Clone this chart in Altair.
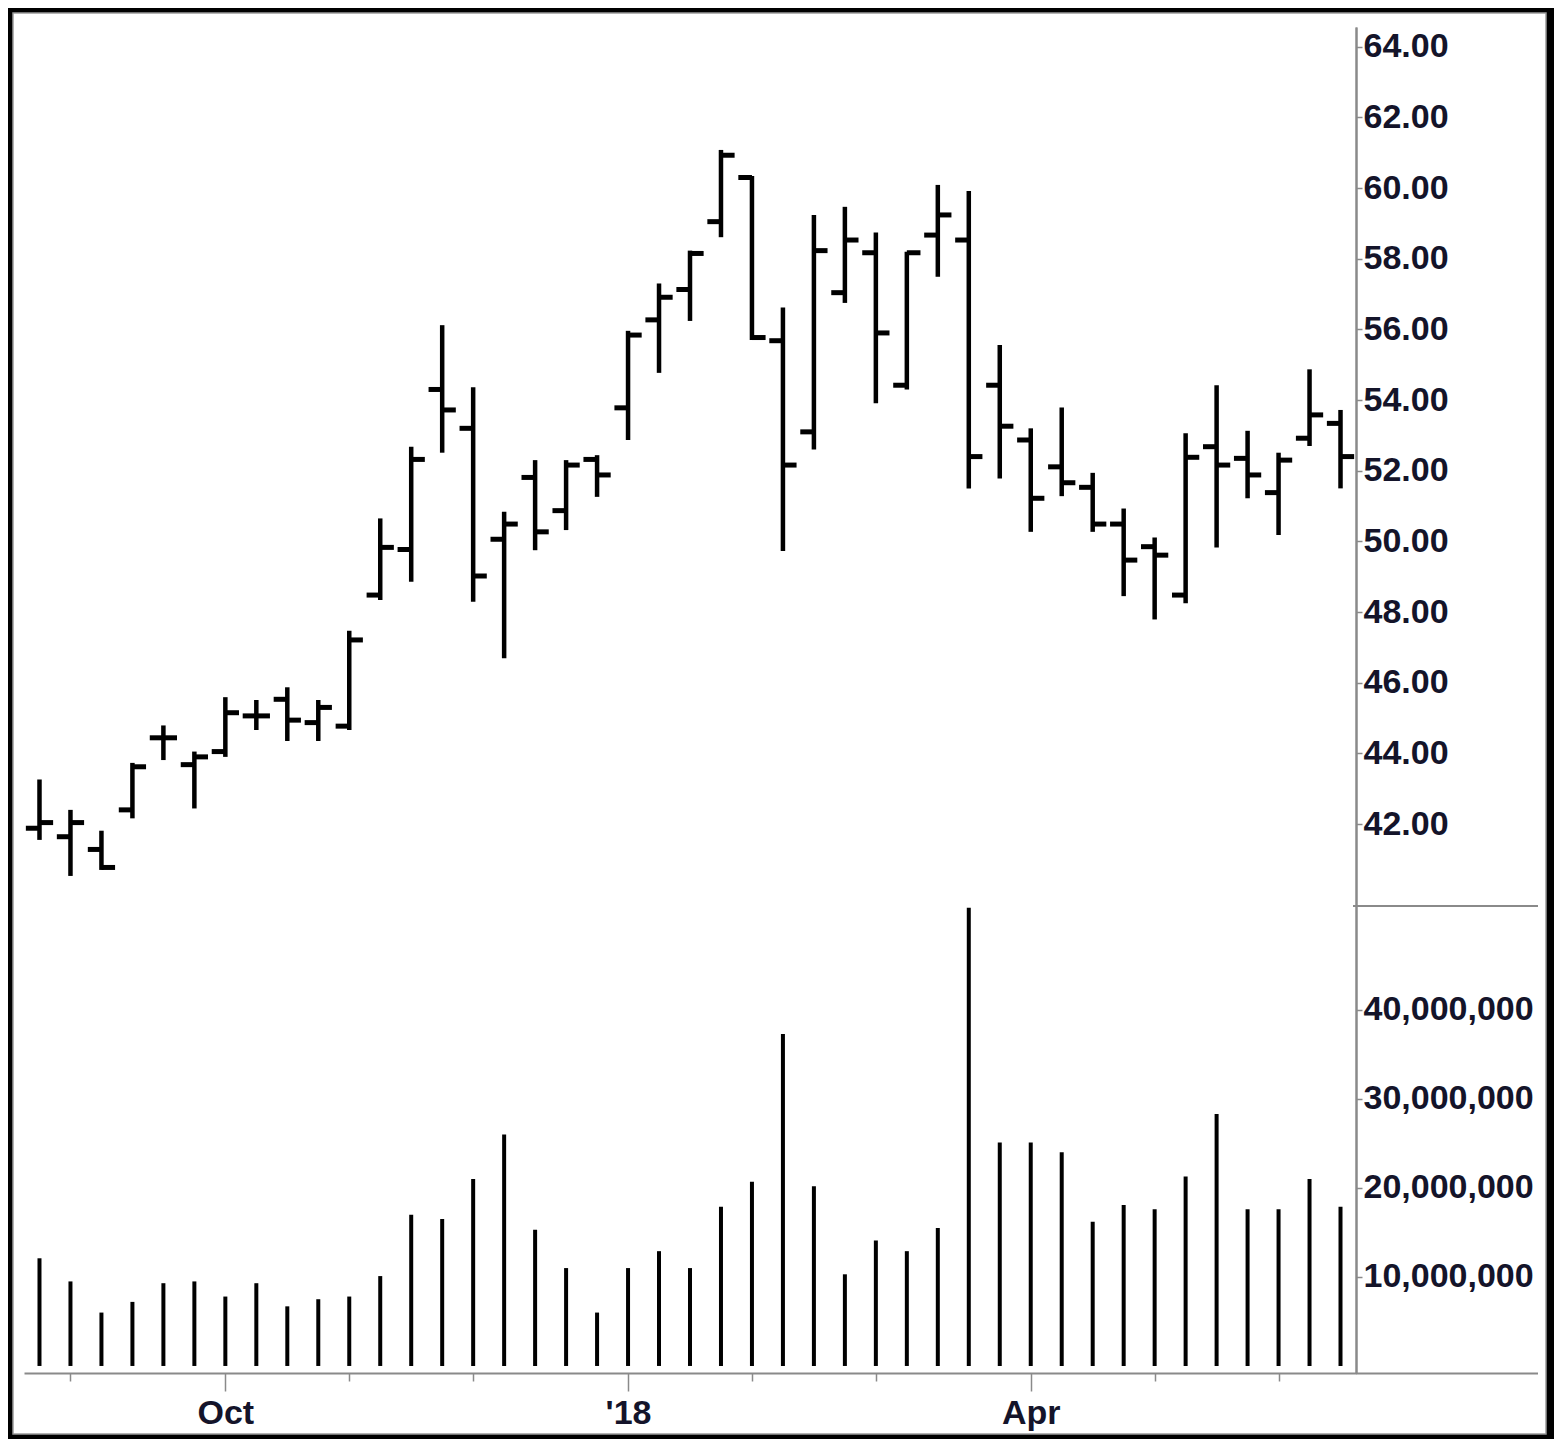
import json
import altair as alt
import pandas as pd

# Weekly bars (week ending Fridays), Aug 2017 - Jun 2018
weeks = [d.strftime("%Y-%m-%d") for d in pd.date_range("2017-08-25", periods=43, freq="7D")]

opens = [41.88, 41.64, 41.28, 42.40, 44.44, 43.68, 44.05, 45.06, 45.53, 44.87, 44.77,
         48.48, 49.77, 54.30, 53.20, 50.06, 51.81, 50.87, 52.32, 53.78, 56.27, 57.13,
         59.05, 60.30, 55.68, 53.10, 57.04, 58.17, 54.42, 58.67, 58.53, 54.42, 52.87,
         52.11, 51.53, 50.49, 49.85, 48.48, 52.68, 52.35, 51.38, 52.92, 53.34]
highs = [43.26, 42.40, 41.81, 43.73, 44.79, 44.05, 45.59, 45.51, 45.87, 45.51, 47.47,
         50.65, 52.68, 56.12, 54.36, 50.84, 52.30, 52.30, 52.44, 55.96, 57.30, 58.23,
         61.08, 60.34, 56.62, 59.24, 59.47, 58.74, 58.20, 60.09, 59.92, 55.56, 53.20,
         53.79, 51.94, 50.93, 50.11, 53.06, 54.42, 53.13, 52.51, 54.87, 53.72]
lows = [41.55, 40.53, 40.70, 42.16, 43.81, 42.44, 43.90, 44.66, 44.35, 44.35, 44.66,
        48.34, 48.86, 52.51, 48.29, 46.69, 49.75, 50.32, 51.26, 52.87, 54.77, 56.24,
        58.61, 55.70, 49.73, 52.60, 56.75, 53.91, 54.30, 57.49, 51.50, 51.78, 50.27,
        51.28, 50.27, 48.45, 47.79, 48.25, 49.83, 51.22, 50.18, 52.70, 51.50]
closes = [42.04, 42.04, 40.77, 43.62, 44.44, 43.90, 45.15, 45.06, 44.94, 45.30, 47.21,
          49.83, 52.32, 53.72, 49.02, 50.49, 50.27, 52.16, 51.88, 55.84, 56.91, 58.15,
          60.93, 55.77, 52.16, 58.23, 58.53, 55.90, 58.17, 59.24, 52.40, 53.26, 51.22,
          51.66, 50.49, 49.47, 49.61, 52.38, 52.16, 51.88, 52.30, 53.58, 52.40]
volumes_m = [12.1, 9.5, 6.0, 7.2, 9.3, 9.5, 7.8, 9.3, 6.7, 7.5, 7.8,
             10.1, 17.0, 16.5, 21.0, 26.0, 15.3, 11.0, 6.0, 11.0, 12.9, 11.0,
             17.9, 20.7, 37.3, 20.2, 10.3, 14.1, 12.9, 15.5, 51.5, 25.1, 25.1,
             24.0, 16.2, 18.1, 17.6, 21.3, 28.3, 17.6, 17.6, 21.0, 17.9]

# x-axis: first weekly bar of each month; labels only at quarter starts
month_tick_idx = [1, 6, 10, 14, 19, 23, 27, 32, 36, 40]
month_tick_labels = ["", "Oct", "", "", "'18", "", "", "Apr", "", ""]
price_ticks = [42, 44, 46, 48, 50, 52, 54, 56, 58, 60, 62, 64]
volume_ticks = [10000000, 20000000, 30000000, 40000000]

df = pd.DataFrame({
    "i": list(range(len(weeks))),
    "week": weeks,
    "open": opens,
    "high": highs,
    "low": lows,
    "close": closes,
    "volume": [v * 1e6 for v in volumes_m],
})

AXIS_GRAY = "#8a8a8a"
LABEL_COLOR = "#14142a"
FONT = "Liberation Sans"
FS = 34

labeled = [(i, l) for i, l in zip(month_tick_idx, month_tick_labels) if l]
label_expr = "".join(f"datum.value == {i} ? {json.dumps(l)} : " for i, l in labeled) + "''"
long_test = " || ".join(f"datum.value == {i}" for i, _ in labeled)

x_scale = alt.Scale(domain=[-0.5, 42.5], nice=False, zero=False)
x_axis = alt.Axis(
    values=month_tick_idx, labelExpr=label_expr, title=None, grid=False,
    tickSize={"condition": {"test": long_test, "value": 18}, "value": 8},
    tickColor=AXIS_GRAY, tickWidth=1.5, domainColor=AXIS_GRAY, domainWidth=2,
    labelFont=FONT, labelFontSize=FS, labelFontWeight="bold", labelColor=LABEL_COLOR,
    labelPadding=5, labelFlush=False, labelOverlap=False, zindex=1,
)

price_scale = alt.Scale(domain=[26.46, 64.56], nice=False, zero=False)
price_axis = alt.Axis(
    orient="right", values=price_ticks, format=".2f", title=None, grid=False,
    tickSize=6, tickColor=AXIS_GRAY, tickWidth=1.5, domainColor=AXIS_GRAY, domainWidth=2,
    labelFont=FONT, labelFontSize=FS, labelFontWeight="bold", labelColor=LABEL_COLOR,
    labelPadding=1, labelOverlap=False, labelFlush=False, zindex=1,
)
vol_scale = alt.Scale(domain=[-790000, 150450000], nice=False, zero=False)
vol_axis = alt.Axis(
    orient="right", values=volume_ticks, format=",d", title=None, grid=False,
    tickSize=6, tickColor=AXIS_GRAY, tickWidth=1.5, domainColor=AXIS_GRAY, domainWidth=2,
    labelFont=FONT, labelFontSize=FS, labelFontWeight="bold", labelColor=LABEL_COLOR,
    labelPadding=1, labelOverlap=False, labelFlush=False, zindex=1,
)

base = alt.Chart(df).transform_calculate(
    x_open="datum.i - 0.44", x_close="datum.i + 0.44", v0="0"
)

hl = base.mark_rule(color="black", strokeWidth=4.5).encode(
    x=alt.X("i:Q", scale=x_scale, axis=x_axis),
    y=alt.Y("low:Q", scale=price_scale, axis=price_axis),
    y2="high:Q",
)
open_tick = base.mark_rule(color="black", strokeWidth=5).encode(
    x=alt.X("x_open:Q", scale=x_scale, axis=x_axis),
    x2="i:Q",
    y=alt.Y("open:Q", scale=price_scale, axis=price_axis),
)
close_tick = base.mark_rule(color="black", strokeWidth=5).encode(
    x=alt.X("i:Q", scale=x_scale, axis=x_axis),
    x2="x_close:Q",
    y=alt.Y("close:Q", scale=price_scale, axis=price_axis),
)
price = alt.layer(hl, open_tick, close_tick)

vol = base.mark_rule(color="black", strokeWidth=4).encode(
    x=alt.X("i:Q", scale=x_scale, axis=x_axis),
    y=alt.Y("volume:Q", scale=vol_scale, axis=vol_axis),
    y2="v0:Q",
)

one = alt.Data(values=[{"k": 1}])
panel_bg = alt.Chart(one).mark_rect(
    fill="white", stroke="#9a9a9a", strokeWidth=1.5
).encode(
    x=alt.value(-11), x2=alt.value(1522), y=alt.value(-14), y2=alt.value(1407)
)
separator = alt.Chart(one).mark_rule(color=AXIS_GRAY, strokeWidth=2).encode(
    x=alt.value(1329), x2=alt.value(1514), y=alt.value(879)
)
axis_ext = alt.Chart(one).mark_rule(color=AXIS_GRAY, strokeWidth=2).encode(
    x=alt.value(1332), x2=alt.value(1514), y=alt.value(1346.5)
)

chart = alt.layer(panel_bg, price, vol, separator, axis_ext).resolve_scale(
    y="independent"
).properties(
    width=1332,
    height=1346,
    autosize=alt.AutoSizeParams(type="none"),
    padding={"left": 16, "top": 19, "right": 198, "bottom": 66},
    background="black",
).configure_view(strokeWidth=0)

chart.save("out.html", embed_options={"renderer": "svg", "actions": False})
